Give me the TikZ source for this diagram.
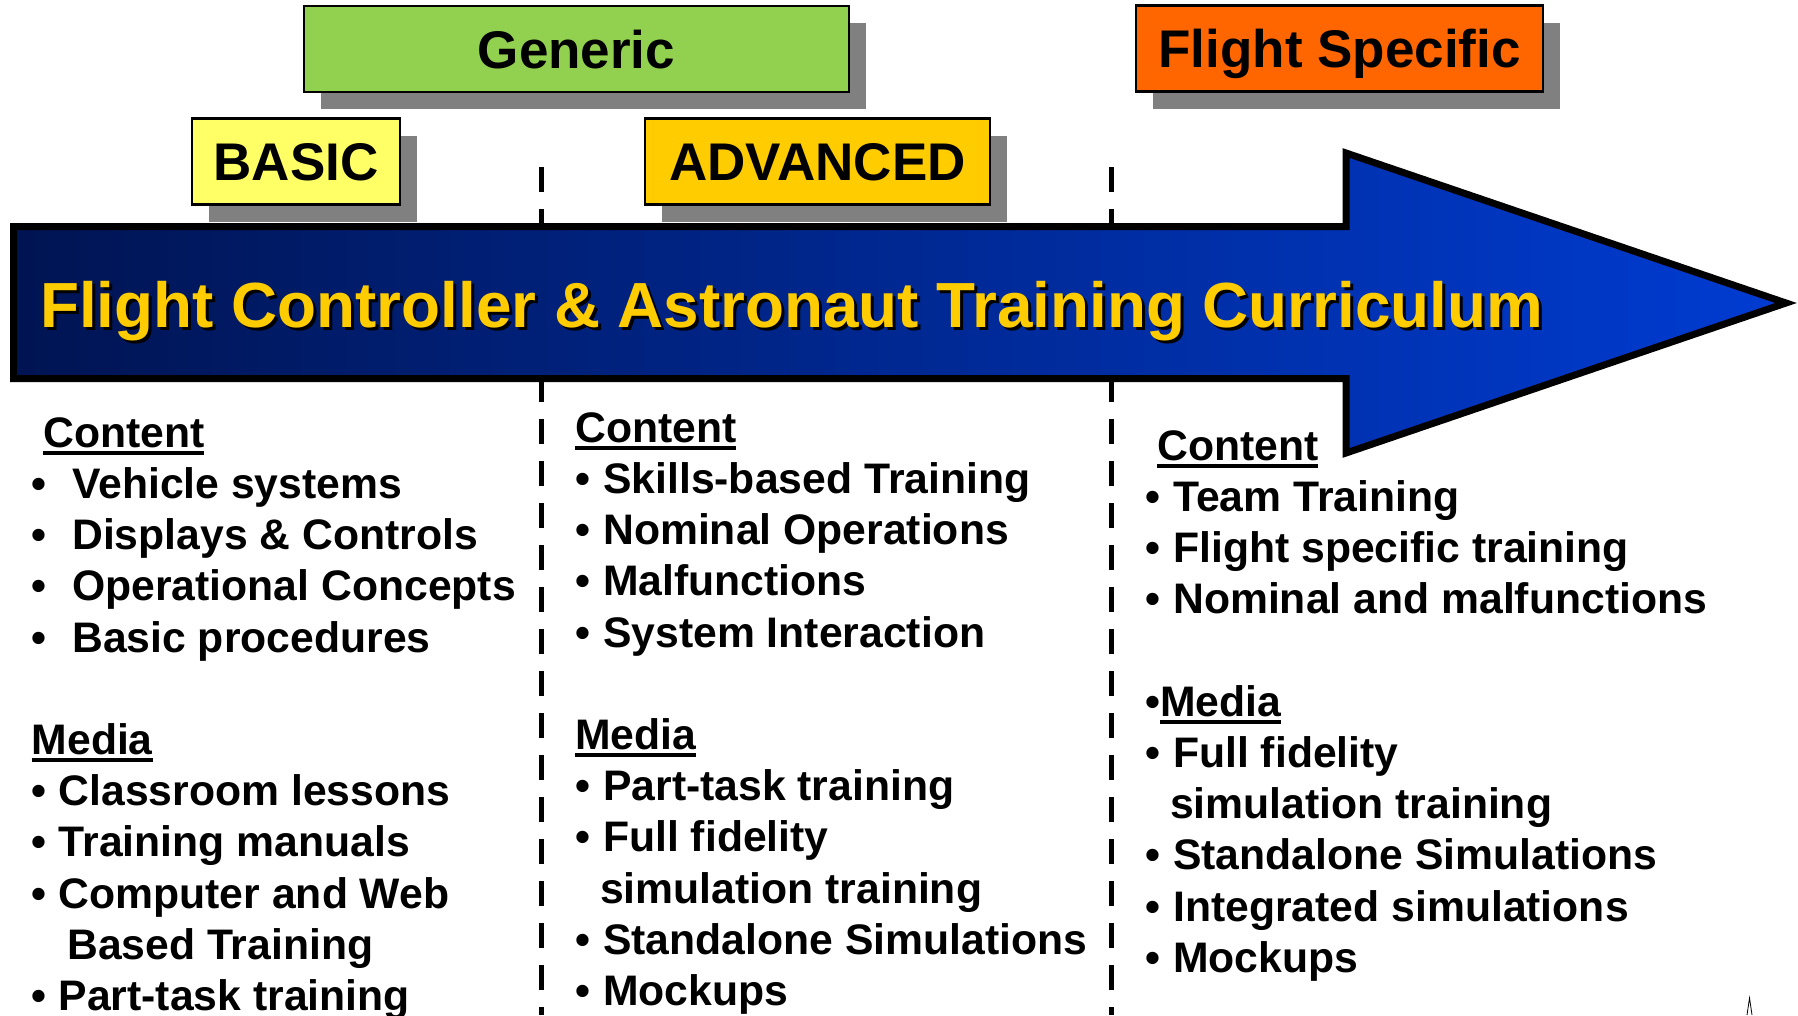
\documentclass[tikz,border=0pt]{standalone}
\usepackage{fontspec}
\setmainfont{Liberation Sans}
\usetikzlibrary{shadows}

\definecolor{genericgreen}{HTML}{92D050}
\definecolor{basicyellow}{HTML}{FFFF66}
\definecolor{advgold}{HTML}{FFCC00}
\definecolor{flightorange}{HTML}{FF6600}
\definecolor{titleyellow}{HTML}{FFCC00}
\definecolor{navyleft}{HTML}{001452}
\definecolor{blueright}{HTML}{003CD2}

\newcommand\colfont{\fontsize{42.7}{51.2}\selectfont\bfseries}
\newcommand\titlefont{\fontsize{63.8}{70}\selectfont\bfseries}
\newcommand\ulbox[1]{\setbox0\hbox{#1}\rlap{\rule[-8pt]{\wd0}{4pt}}\box0}
\newcommand\itm[1][28pt]{\makebox[#1][l]{\textbullet}}
\newcommand\firstline{\rule{0pt}{31pt}}

\tikzset{
  phasebox/.style={draw=black, line width=2.5pt, minimum height=86pt,
    font=\fontsize{53}{60}\selectfont\bfseries, text height=38pt, text depth=0pt,
    drop shadow={shadow xshift=17pt, shadow yshift=-17pt, fill=gray, opacity=1}},
  column/.style={anchor=north west, align=left, inner sep=0pt, font=\colfont},
  divider/.style={line width=5pt, dash pattern=on 25pt off 17pt}
}

\begin{document}
\begin{tikzpicture}[x=1pt, y=-1pt]
  \useasboundingbox (0,0) rectangle (1798,1015);

  % dividers between the phases
  \foreach \x in {541,1111}
    \draw[divider] (\x,167) -- (\x,1015);

  % phase labels
  \node[phasebox, fill=genericgreen, minimum width=545pt] (generic) at (576.5,49) {Generic};
  \node[phasebox, fill=flightorange, minimum width=407pt] (flightspec) at (1339.5,48.5) {Flight Specific};
  \node[phasebox, fill=basicyellow, minimum width=208pt] (basic) at (296,161.5) {BASIC};
  \node[phasebox, fill=advgold, minimum width=345pt] (advanced) at (817.5,161.5) {ADVANCED};

  % the big arrow
  \draw[line width=7pt, left color=navyleft, right color=blueright]
    (13.5,226.5) -- (1346,226.5) -- (1346,153) -- (1786,303) -- (1346,453)
    -- (1346,378.5) -- (13.5,378.5) -- cycle;
  \node[anchor=base west, inner sep=0pt, font=\titlefont, text=black] (titleshadow) at (43,330)
    {Flight Controller \& Astronaut Training Curriculum};
  \node[anchor=base west, inner sep=0pt, font=\titlefont, text=titleyellow] (title) at (40,327)
    {Flight Controller \& Astronaut Training Curriculum};

  % column texts
  \node[column] (colbasic) at (31.5,416) {\firstline\hspace*{11.5pt}\ulbox{Content}\\
    \itm[40.5pt]Vehicle systems\\
    \itm[40.5pt]Displays \& Controls\\
    \itm[40.5pt]Operational Concepts\\
    \itm[40.5pt]Basic procedures\\[51.2pt]
    \ulbox{Media}\\
    \itm[27pt]Classroom lessons\\
    \itm[27pt]Training manuals\\
    \itm[27pt]Computer and Web\\
    \hspace*{35.5pt}Based Training\\
    \itm[27pt]Part-task training};

  \node[column] (coladv) at (575,411) {\firstline\ulbox{Content}\\
    \itm Skills-based Training\\
    \itm Nominal Operations\\
    \itm Malfunctions\\
    \itm System Interaction\\[51.2pt]
    \ulbox{Media}\\
    \itm Part-task training\\
    \itm Full fidelity\\
    \hspace*{25pt}simulation training\\
    \itm Standalone Simulations\\
    \itm Mockups};

  \node[column] (colflight) at (1145,429) {\firstline\hspace*{12pt}\ulbox{Content}\\
    \itm Team Training\\
    \itm Flight specific training\\
    \itm Nominal and malfunctions\\[51.2pt]
    \textbullet\ulbox{Media}\\
    \itm Full fidelity\\
    \hspace*{25pt}simulation training\\
    \itm Standalone Simulations\\
    \itm Integrated simulations\\
    \itm Mockups};

  \draw[line width=0.8pt] (1747,1015) -- (1749.5,998) -- (1752,1015);
\end{tikzpicture}
\end{document}
